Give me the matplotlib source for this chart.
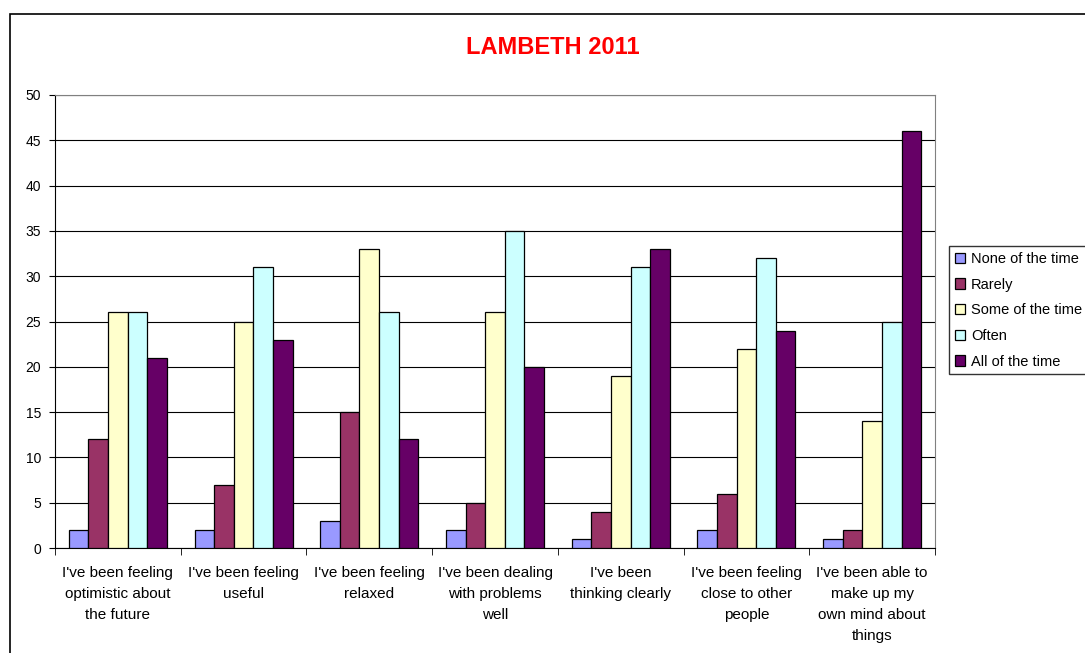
import matplotlib.pyplot as plt
import matplotlib.patches as mpatches
import numpy as np

plt.rcParams['font.family'] = ['Liberation Sans', 'DejaVu Sans']

categories = ["I've been feeling\noptimistic about\nthe future",
              "I've been feeling\nuseful",
              "I've been feeling\nrelaxed",
              "I've been dealing\nwith problems\nwell",
              "I've been\nthinking clearly",
              "I've been feeling\nclose to other\npeople",
              "I've been able to\nmake up my\nown mind about\nthings"]
series_names = ['None of the time', 'Rarely', 'Some of the time', 'Often', 'All of the time']
none_vals = [2, 2, 3, 2, 1, 2, 1]
rarely_vals = [12, 7, 15, 5, 4, 6, 2]
some_vals = [26, 25, 33, 26, 19, 22, 14]
often_vals = [26, 31, 26, 35, 31, 32, 25]
all_vals = [21, 23, 12, 20, 33, 24, 46]
colors = ['#9999FF', '#993366', '#FFFFCC', '#CCFFFF', '#660066']

fig = plt.figure(figsize=(10.85, 6.53), dpi=100)
ax = fig.add_axes([55/1085, 1-548/653, 880/1085, 453/653])

# outer chart border
fig.patches.append(mpatches.Rectangle((10/1085, -0.05), 1.1, 1-14/653+0.05,
                                      transform=fig.transFigure, fill=False,
                                      edgecolor='black', linewidth=1.2))

x = np.arange(len(categories))
w = 0.156
for i, vals in enumerate([none_vals, rarely_vals, some_vals, often_vals, all_vals]):
    ax.bar(x + (i - 2) * w, vals, width=w, color=colors[i], edgecolor='black',
           linewidth=0.9, label=series_names[i], zorder=3)

ax.set_xlim(-0.5, len(categories) - 0.5)
ax.set_ylim(0, 50)
ax.set_yticks(range(0, 51, 5))
ax.yaxis.grid(True, color='black', linewidth=0.8)
ax.set_axisbelow(True)
ax.set_xticks(x)
ax.set_xticklabels(categories, fontsize=11, linespacing=1.62)
ax.tick_params(axis='x', length=0, pad=13)
ax.set_xticks(np.arange(-0.5, len(categories), 1), minor=True)
ax.tick_params(axis='x', which='minor', length=5, direction='out')
ax.tick_params(axis='y', labelsize=10, length=4, direction='out', pad=6)
ax.spines['top'].set_color('#808080')
ax.spines['right'].set_color('#808080')

fig.text(553/1085, 1-48/653, 'LAMBETH 2011', color='#FF0000', fontsize=17,
         fontweight='bold', ha='center', va='center')

leg = fig.legend(loc='upper left', bbox_to_anchor=(949/1085, 1-246/653),
                 fontsize=10.5, frameon=True, fancybox=False, edgecolor='black',
                 handlelength=0.7, handleheight=0.7, handletextpad=0.4,
                 labelspacing=0.8, borderpad=0.4, borderaxespad=0)
leg.get_frame().set_linewidth(1.0)

fig.savefig('out.png', dpi=100)
